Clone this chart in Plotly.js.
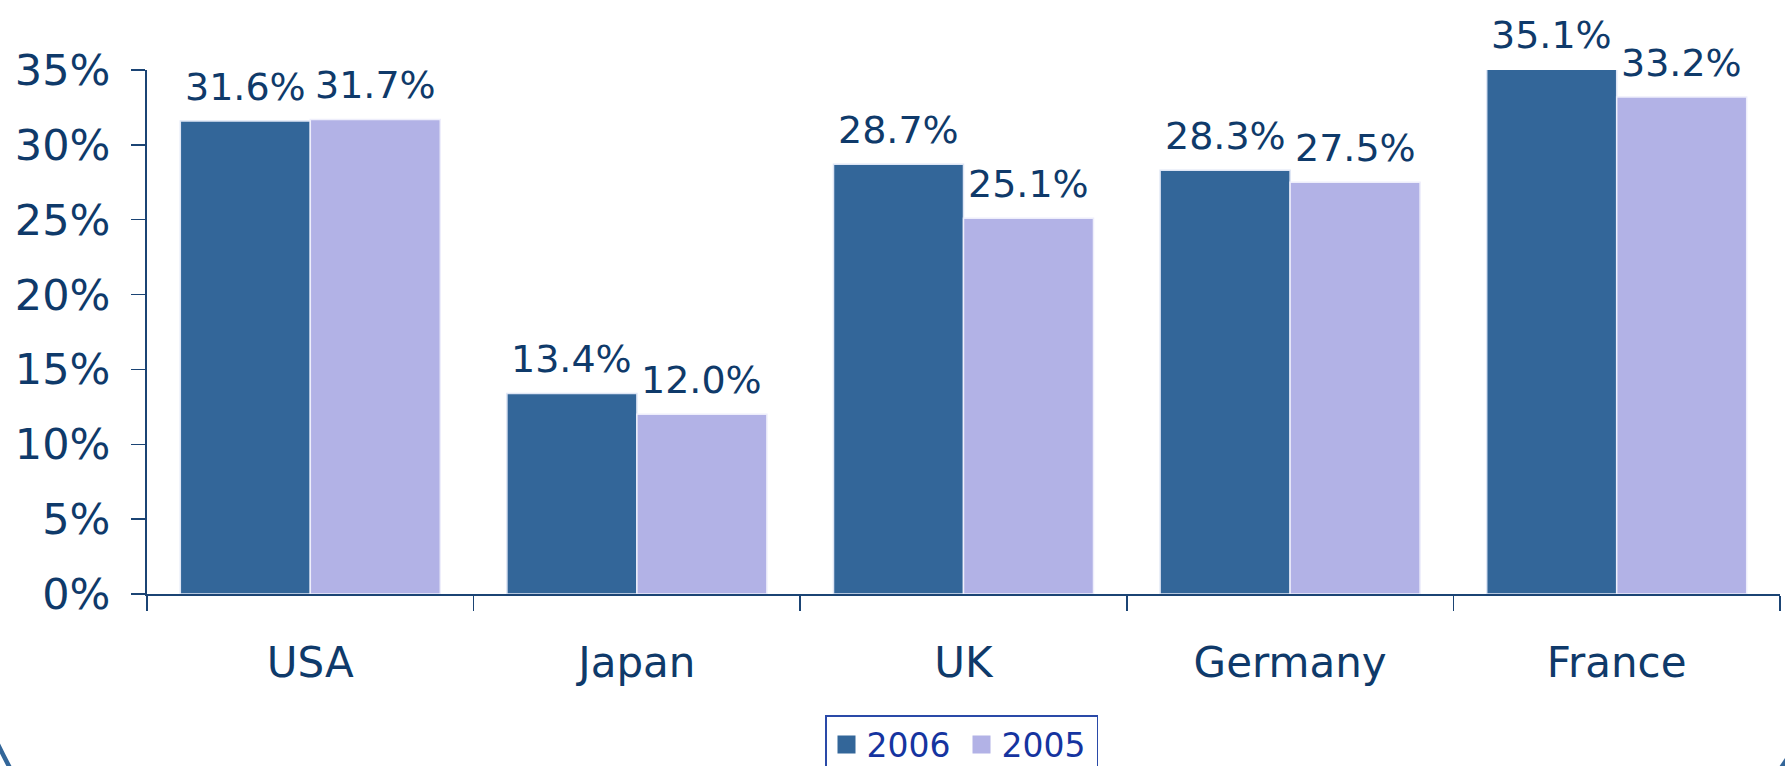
<!DOCTYPE html>
<html>
<head>
<meta charset="utf-8">
<script src="https://cdn.plot.ly/plotly-3.0.1.min.js"></script>
<style>
html,body{margin:0;padding:0;background:#fff;}
#chart{width:1785px;height:766px;}
</style>
</head>
<body>
<div id="chart"></div>
<script>
// ---- data ----
const categories = ["USA", "Japan", "UK", "Germany", "France"];
const series2006 = [31.6, 13.4, 28.7, 28.3, 35.1];
const series2005 = [31.7, 12.0, 25.1, 27.5, 33.2];
const seriesNames = ["2006", "2005"];
const yTickValues = [0, 5, 10, 15, 20, 25, 30, 35];

// ---- style ----
const W = 1785, H = 766;
const M = {l: 147, r: 5, t: 70, b: 172};
const textColor = "#0f3a6a";
const axisColor = "#1b4474";
const color2006 = "#336699";
const color2005 = "#b2b2e6";
const bargap = 0.204;
const yMax = yTickValues[yTickValues.length - 1];
const font = "DejaVu Sans, Verdana, sans-serif";

const traces = [
  {type: "bar", name: seriesNames[0], x: categories, y: series2006,
   marker: {color: color2006, line: {color: "#dfe6f5", width: 1.5}}},
  {type: "bar", name: seriesNames[1], x: categories, y: series2005,
   marker: {color: color2005, line: {color: "#eeeefb", width: 1.5}}}
];

// data labels above bars (y in paper fraction of the linear 0..yMax axis)
const half = (1 - bargap) / 4;
const annotations = [];
[series2006, series2005].forEach((s, k) => {
  s.forEach((v, i) => {
    annotations.push({
      x: i + (k === 0 ? -half : half), y: v / yMax, xref: "x", yref: "paper",
      text: v.toFixed(1) + "%", showarrow: false, yanchor: "bottom",
      yshift: 10, font: {family: font, size: 38, color: textColor}
    });
  });
});

// decorative frame corners (pixel -> paper)
const pw = W - M.l - M.r, ph = H - M.t - M.b;
const px = x => ((x - M.l) / pw).toFixed(5);
const py = y => ((H - M.b - y) / ph).toFixed(5);
const shapes = [
  {type: "path", xref: "paper", yref: "paper",
   path: `M ${px(-7)},${py(734)} Q ${px(1)},${py(751)} ${px(11)},${py(770)}`,
   line: {color: color2006, width: 4.5}},
  {type: "path", xref: "paper", yref: "paper",
   path: `M ${px(1793)},${py(750)} L ${px(1779)},${py(771)}`,
   line: {color: color2006, width: 4.5}}
];

const layout = {
  width: W, height: H,
  margin: M,
  paper_bgcolor: "#ffffff", plot_bgcolor: "#ffffff",
  font: {family: font, color: textColor},
  barmode: "group", bargap: bargap, bargroupgap: 0,
  showlegend: true,
  legend: {
    orientation: "h", xref: "container", yref: "container",
    x: 825 / W, y: 1 - 715 / H, xanchor: "left", yanchor: "top",
    bgcolor: "#ffffff", bordercolor: "#2a4aa8", borderwidth: 1.5,
    font: {family: font, size: 33, color: "#1534a0"},
    entrywidth: 90, entrywidthmode: "pixels",
    traceorder: "normal"
  },
  xaxis: {
    type: "category", showgrid: false, zeroline: false,
    showline: true, linecolor: axisColor, linewidth: 2,
    ticks: "outside", tickson: "boundaries", ticklen: 15, tickwidth: 1.5, tickcolor: axisColor,
    tickfont: {family: font, size: 42, color: textColor},
    ticklabelstandoff: 31
  },
  yaxis: {
    range: [0, yMax], tickvals: yTickValues, ticktext: yTickValues.map(v => v + "%"),
    showgrid: false, zeroline: false,
    showline: true, linecolor: axisColor, linewidth: 2,
    ticks: "outside", ticklen: 14, tickwidth: 1.5, tickcolor: axisColor,
    tickfont: {family: font, size: 43, color: textColor},
    ticklabelstandoff: 12
  },
  annotations: annotations,
  shapes: shapes
};

Plotly.newPlot("chart", traces, layout, {staticPlot: true, displayModeBar: false}).then(gd => {
  // enlarge legend swatches to match the reference's bigger squares
  gd.querySelectorAll(".legend .legendpoints path").forEach(p => {
    const t = p.getAttribute("transform") || "";
    p.setAttribute("transform", t + " scale(1.5)");
    p.style.strokeWidth = "0";
  });
});
</script>
</body>
</html>
